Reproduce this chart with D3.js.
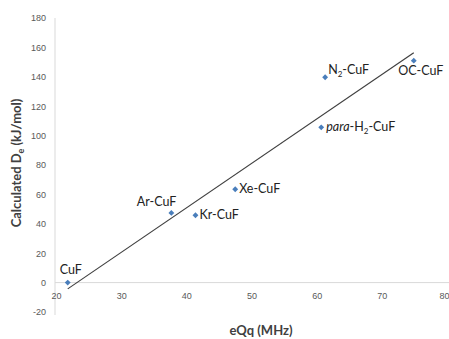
<!DOCTYPE html>
<html>
<head>
<meta charset="utf-8">
<script src="https://d3js.org/d3.v7.min.js"></script>
<style>
  body { margin: 0; background: #fff; }
  svg { font-family: Lato, "Open Sans", sans-serif; }
  .tick text { fill: #595959; font-size: 9px; }
  .lbl { font-size: 12.5px; fill: #222; }
</style>
</head>
<body>
<div id="chart"></div>
<script>
// data
const names = ["CuF", "Ar-CuF", "Kr-CuF", "Xe-CuF", "N2-CuF", "OC-CuF", "para-H2-CuF"];
const eQq = [21.8, 37.7, 41.4, 47.5, 61.3, 74.9, 60.7];
const De = [0, 47.4, 45.8, 63.5, 139.7, 151, 105.6];
const xTicks = [20, 30, 40, 50, 60, 70, 80];
const yTicks = [-20, 0, 20, 40, 60, 80, 100, 120, 140, 160, 180];

const width = 449, height = 339;

const svg = d3.select("#chart").append("svg")
  .attr("width", width).attr("height", height);

const x = d3.scaleLinear().domain([20, 80]).range([56, 447]);
const y = d3.scaleLinear().domain([-20, 180]).range([312, 18]);

// y axis (line at x=20)
const yAxis = svg.append("g")
  .attr("transform", `translate(${x(20) - 1},0)`)
  .call(d3.axisLeft(y).tickValues(yTicks).tickSize(0).tickPadding(9)
    .tickFormat(d => d < 0 ? "-" + Math.abs(d) : d));
yAxis.select(".domain").attr("stroke", "#d9d9d9").attr("d", `M0,${y(180)}V${y(-20) + 3}`);

// x axis drawn at y=0
const xAxis = svg.append("g")
  .attr("transform", `translate(0,${y(0)})`)
  .call(d3.axisBottom(x).tickValues(xTicks).tickSize(0).tickPadding(10));
xAxis.select(".domain").attr("stroke", "#d9d9d9").attr("d", `M${x(20) - 1},0H${width}`);
// last label sits at the right edge, keep it inside the frame
xAxis.selectAll(".tick text").filter(d => d === 80).attr("text-anchor", "end").attr("dx", 2);

// linear trend line (least squares)
const mx = d3.mean(eQq), my = d3.mean(De);
const slope = d3.sum(eQq, (v, i) => (v - mx) * (De[i] - my)) / d3.sum(eQq, v => (v - mx) ** 2);
const icpt = my - slope * mx;
const x0 = d3.min(eQq), x1 = d3.max(eQq);
svg.append("line")
  .attr("x1", x(x0)).attr("y1", y(icpt + slope * x0))
  .attr("x2", x(x1)).attr("y2", y(icpt + slope * x1))
  .attr("stroke", "#404040").attr("stroke-width", 1.2);

// markers
svg.selectAll("path.pt").data(names).enter().append("path")
  .attr("class", "pt")
  .attr("d", d3.symbol(d3.symbolDiamond2, 22))
  .attr("transform", (d, i) => `translate(${x(eQq[i])},${y(De[i])})`)
  .attr("fill", "#4a7ebb");

// point labels
const place = {
  "CuF": [-8, -9, "start"],
  "Ar-CuF": [5, -7, "end"],
  "Kr-CuF": [4, 4, "start"],
  "Xe-CuF": [4, 4, "start"],
  "N2-CuF": [3, -3, "start"],
  "OC-CuF": [7, 14, "middle"],
  "para-H2-CuF": [5, 4, "start"]
};
names.forEach((n, i) => {
  const [dx, dy, anchor] = place[n];
  const t = svg.append("text").attr("class", "lbl")
    .attr("x", x(eQq[i]) + dx).attr("y", y(De[i]) + dy)
    .attr("text-anchor", anchor);
  if (n === "N2-CuF") {
    t.append("tspan").text("N");
    t.append("tspan").attr("font-size", "8px").attr("dy", 3).text("2");
    t.append("tspan").attr("dy", -3).text("-CuF");
  } else if (n === "para-H2-CuF") {
    t.append("tspan").attr("font-style", "italic").text("para");
    t.append("tspan").text("-H");
    t.append("tspan").attr("font-size", "8px").attr("dy", 3).text("2");
    t.append("tspan").attr("dy", -3).text("-CuF");
  } else {
    t.text(n);
  }
});

// axis titles
svg.append("text")
  .attr("x", 261).attr("y", 335)
  .attr("text-anchor", "middle")
  .attr("font-size", "13px").attr("font-weight", "bold").attr("fill", "#404040")
  .text("eQq (MHz)");

const yt = svg.append("text")
  .attr("transform", "translate(21,163) rotate(-90)")
  .attr("text-anchor", "middle")
  .attr("font-size", "13px").attr("font-weight", "bold").attr("fill", "#404040");
yt.append("tspan").text("Calculated D");
yt.append("tspan").attr("font-size", "9px").attr("dy", 3).text("e");
yt.append("tspan").attr("dy", -3).text(" (kJ/mol)");
</script>
</body>
</html>
